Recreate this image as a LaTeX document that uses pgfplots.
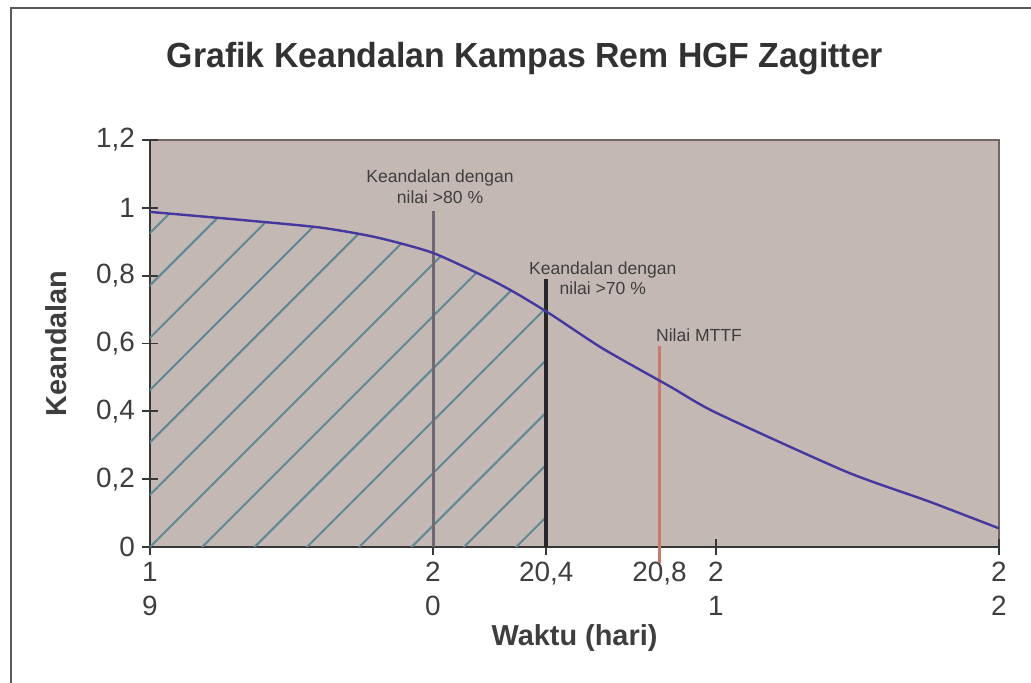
\documentclass[border=0pt]{standalone}
\usepackage{fontspec}
\setmainfont{Liberation Sans}
\usepackage{pgfplots}
\pgfplotsset{compat=1.18}
\usetikzlibrary{patterns.meta}
\definecolor{bgc}{RGB}{196,184,181}
\definecolor{curvec}{RGB}{68,56,158}
\definecolor{hatchc}{RGB}{95,135,148}
\definecolor{axc}{RGB}{55,55,55}
\definecolor{txtc}{RGB}{62,62,62}
\definecolor{mttfc}{RGB}{200,122,108}
\definecolor{vgray}{RGB}{110,104,112}
\definecolor{framec}{RGB}{90,90,90}
\begin{document}
\begin{tikzpicture}
\useasboundingbox (-75bp,-68bp) rectangle (440.5bp,273.5bp);
\draw[line width=1.2bp, framec] (-69.5bp,-80bp) -- (-69.5bp,269.5bp) -- (450bp,269.5bp);
\begin{axis}[
  scale only axis, width=424.5bp, height=203.5bp,
  xmin=19, xmax=22, ymin=0, ymax=1.2,
  axis lines*=left,
  axis line style={axc, line width=1.1bp},
  axis background/.style={fill=bgc, draw={rgb,255:red,112;green,102;blue,102}, line width=0.8bp},
  xtick={19,20,20.4,20.8,21,22},
  xticklabels={{1\\9},{2\\0},{20,4},{20,8},{2\\1},{2\\2}},
  ytick={0,0.2,0.4,0.6,0.8,1,1.2},
  yticklabels={0,{0,2},{0,4},{0,6},{0,8},1,{1,2}},
  tick align=center, major tick length=8bp,
  tick style={axc, line width=0.9bp},
  xticklabel style={align=center, font=\fontsize{14}{17}\selectfont, text=txtc},
  yticklabel style={font=\fontsize{14}{15}\selectfont, text=txtc},
  xlabel={Waktu (hari)},
  xlabel style={at={(axis description cs:0.5,-0.2432)}, anchor=base, font=\bfseries\fontsize{14.5}{16}\selectfont, text=txtc},
  ylabel={Keandalan},
  ylabel style={at={(axis description cs:-0.0978,0.5)}, anchor=base, font=\bfseries\fontsize{14.5}{16}\selectfont, text=txtc},
  clip=false,
]
% hatched area (reliability up to 20.4)
\addplot[draw=none, pattern={Lines[angle=45,distance=18.5bp,line width=1bp,xshift=7bp]}, pattern color=hatchc]
  coordinates {(19,0.988) (19.3,0.966) (19.6,0.942) (19.8,0.913) (20,0.867) (20.2,0.790) (20.3,0.745) (20.4,0.694)} \closedcycle;
% vertical markers
\addplot[vgray, line width=1.5bp] coordinates {(20,0) (20,0.99)};
\addplot[black!85, line width=2bp] coordinates {(20.4,0) (20.4,0.79)};
\addplot[mttfc, line width=1.5bp] coordinates {(20.8,-0.047) (20.8,0.593)};
% reliability curve
\addplot[curvec, line width=1.2bp, smooth, tension=0.4] coordinates {
 (19,0.988) (19.3,0.966) (19.6,0.942) (19.8,0.913) (20,0.867) (20.2,0.790) (20.3,0.745)
 (20.42,0.684) (20.6,0.585) (20.84,0.472) (21,0.396) (21.46,0.222) (21.75,0.135) (22,0.055)};
% annotations
\node[align=center, font=\fontsize{8.8}{10.5}\selectfont, text=txtc] at (axis cs:20.025,1.063) {Keandalan dengan\\nilai >80 \%};
\node[align=center, font=\fontsize{8.8}{10}\selectfont, text=txtc] at (axis cs:20.60,0.793) {Keandalan dengan\\nilai >70 \%};
\node[font=\fontsize{8.8}{10}\selectfont, text=txtc] at (axis cs:20.94,0.625) {Nilai MTTF};
% title
\node[anchor=base, font=\bfseries\fontsize{17.5}{20}\selectfont, text={rgb,255:red,50;green,50;blue,50}] at (axis description cs:0.4417,1.179) {\scalebox{0.97}[1]{Grafik Keandalan Kampas Rem HGF Zagitter}};
\end{axis}
\end{tikzpicture}
\end{document}
